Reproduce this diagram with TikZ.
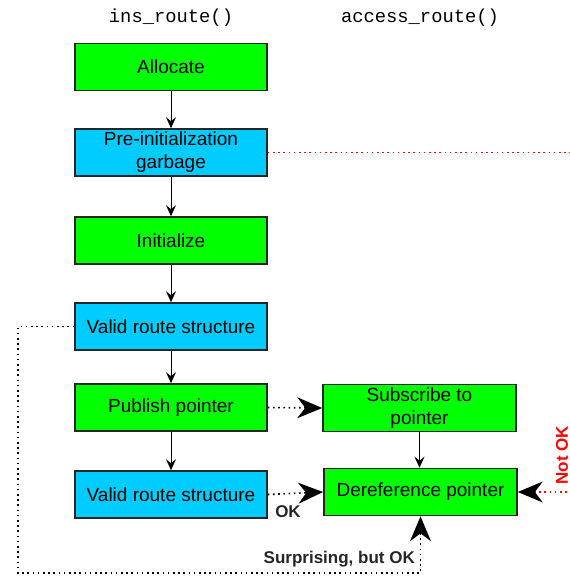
\documentclass[tikz,border=0pt]{standalone}
\usepackage{fontspec}
\setmainfont{Liberation Sans}
\setmonofont{Liberation Mono}
\usetikzlibrary{arrows.meta}
\definecolor{boxgreen}{HTML}{00FF00}
\definecolor{boxblue}{HTML}{00CCFF}
\definecolor{dotred}{HTML}{FF0000}
\tikzset{
  box/.style={draw=black!85, line width=1.6pt, minimum width=192pt, minimum height=47pt,
    inner sep=0pt, align=center, font=\fontsize{19}{23}\selectfont},
  gbox/.style={box, fill=boxgreen},
  bbox/.style={box, fill=boxblue},
  title/.style={font=\ttfamily\fontsize{18.8}{22}\selectfont},
  solidarrow/.style={draw=black, line width=1pt, -{Stealth[length=11pt, width=10pt, inset=4pt]}},
  dotline/.style={line width=1.6pt, dash pattern=on 1.6pt off 3.6pt},
  bigarrow/.style={dotline, -{Stealth[length=25pt, width=21pt, inset=8pt, color=black, line width=0pt, sep=0pt]}},
  lbl/.style={font=\bfseries\fontsize{17}{20}\selectfont, text=black!85, inner sep=0pt}
}
\begin{document}
\begin{tikzpicture}[x=1pt, y=-1pt]
\useasboundingbox (0,0) rectangle (570,576);
\node[title] (t1) at (171,18) {ins\_route()};
\node[title] (t2) at (420,18) {access\_route()};

\node[gbox] (alloc) at (171,67) {Allocate};
\node[bbox] (pre) at (171,152.5) {Pre-initialization\\garbage};
\node[gbox] (init) at (171,240.5) {Initialize};
\node[bbox] (valid1) at (171,326.5) {Valid route structure};
\node[gbox] (pub) at (171,407.5) {Publish pointer};
\node[bbox] (valid2) at (171,494.5) {Valid route structure};
\node[gbox, minimum width=193pt] (sub) at (419.5,408) {Subscribe to\\pointer};
\node[gbox, minimum width=193pt] (deref) at (420.5,492) {Dereference pointer};

\draw[solidarrow] (alloc) -- (pre);
\draw[solidarrow] (pre) -- (init);
\draw[solidarrow] (init) -- (valid1);
\draw[solidarrow] (valid1) -- (pub);
\draw[solidarrow] (pub) -- (valid2);
\draw[solidarrow] (sub.south) -- (sub.south |- deref.north);

\draw[bigarrow] (pub.east) -- (sub.west);
\draw[bigarrow] (valid2.east) -- (deref.west);

\coordinate (redend) at (572,152.5);
\draw[dotline, dotred] (pre.east) -- (redend);

\coordinate (notokstart) at (572,492);
\draw[bigarrow, dotred] (notokstart) -- (deref.east);
\node[lbl, text=dotred, rotate=90] (notok) at (562,455) {Not OK};

\coordinate (c1) at (18,326.5);
\coordinate (c2) at (18,573);
\coordinate (c3) at (deref.south |- c2);
\draw[bigarrow] (valid1.west) -- (c1) -- (c2) -- (c3) -- (deref.south);

\node[lbl] (ok) at (288,512) {OK};
\node[lbl, anchor=east] (surp) at (415,559) {Surprising, but OK};
\end{tikzpicture}
\end{document}
